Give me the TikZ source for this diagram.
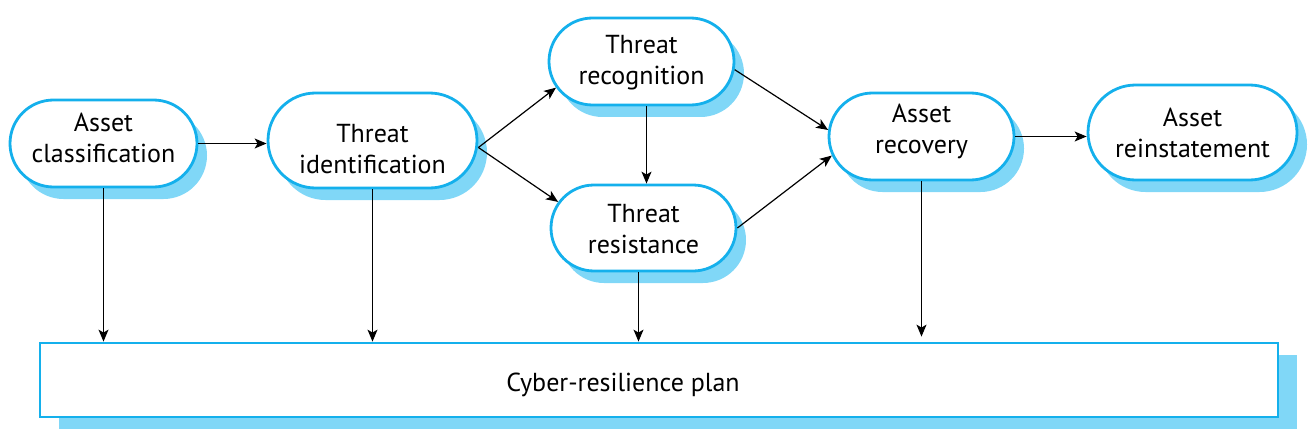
\documentclass[tikz,border=0pt]{standalone}
\usepackage{fontspec}
\setmainfont{PT Sans}
\usetikzlibrary{shapes.misc,shadows,arrows.meta,calc}
\definecolor{bord}{RGB}{20,176,236}
\definecolor{shd}{RGB}{128,215,247}
\begin{document}
\begin{tikzpicture}[x=1pt,y=-1pt,
  proc/.style={rounded rectangle, draw=bord, line width=2.8pt, fill=white, inner sep=0pt,
    drop shadow={shadow xshift=10pt, shadow yshift=-12pt, fill=shd, opacity=1}},
  lbl/.style={align=center, font=\fontsize{26}{31}\selectfont, inner sep=0pt},
  arr/.style={-{Stealth[length=12pt,width=10pt,inset=3pt]}, line width=1.2pt}]
\useasboundingbox (0,0) rectangle (1313,441);

\node[draw=bord, line width=2.8pt, fill=white, minimum width=1238pt, minimum height=74pt, inner sep=0pt,
  drop shadow={shadow xshift=19pt, shadow yshift=-12pt, fill=shd, opacity=1}] (plan) at (659,380) {};
\node[lbl] (plantxt) at (623,385) {Cyber-resilience plan};

\node[proc, minimum width=187pt, minimum height=87pt] (ac) at (103.5,143.5) {};
\node[proc, minimum width=209pt, minimum height=95pt] (tid) at (372.5,140.5) {};
\node[proc, minimum width=185pt, minimum height=87pt] (trec) at (641.5,61.5) {};
\node[proc, minimum width=185pt, minimum height=86pt] (tres) at (643.5,228) {};
\node[proc, minimum width=185pt, minimum height=87pt] (arec) at (921.5,136.5) {};
\node[proc, minimum width=209pt, minimum height=95pt] (arei) at (1192.5,132.5) {};

\node[lbl] (actxt) at (103.5,138) {Asset\\classification};
\node[lbl] (tidtxt) at (372.5,149) {Threat\\identification};
\node[lbl] (trectxt) at (641.5,63) {Threat\\recognition};
\node[lbl] (trestxt) at (643.5,229) {Threat\\resistance};
\node[lbl] (arectxt) at (921.5,131) {Asset\\recovery};
\node[lbl] (areitxt) at (1192.5,133) {Asset\\reinstatement};

\draw[arr] (ac.east) -- (ac.east -| tid.west);
\draw[arr] ([yshift=-7pt]tid.east) -- (trec.197);
\draw[arr] ([yshift=-7pt]tid.east) -- (tres.163);
\draw[arr] ([xshift=5pt]trec.south) -- ([xshift=5pt]trec.south |- tres.north);
\draw[arr] (trec.-5) -- (arec.176);
\draw[arr] (tres.east) -- (arec.192);
\draw[arr] (arec.east) -- (arec.east -| arei.west);
\draw[arr] (ac.south) -- (ac.south |- plan.north);
\draw[arr] (tid.south) -- (tid.south |- plan.north);
\draw[arr] ([xshift=-5pt]tres.south) -- ([xshift=-5pt]tres.south |- plan.north);
\coordinate (arecend) at ($(arec.south |- plan.north)+(0,-5)$);
\draw[arr] (arec.south) -- (arecend);
\end{tikzpicture}
\end{document}
